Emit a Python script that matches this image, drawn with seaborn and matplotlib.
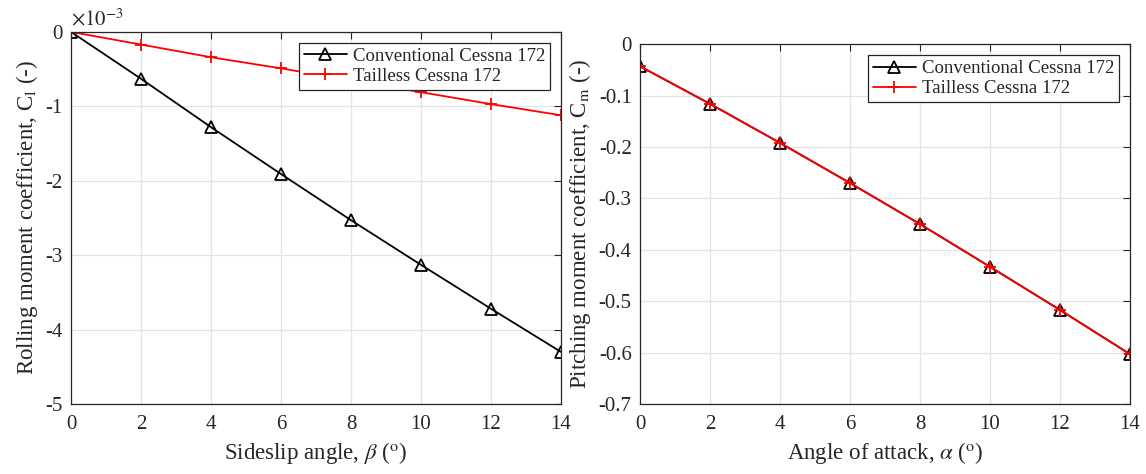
import numpy as np
import pandas as pd
import seaborn as sns
import matplotlib
matplotlib.use("Agg")
import matplotlib.pyplot as plt
from matplotlib.ticker import FuncFormatter

# Data
beta = [0, 2, 4, 6, 8, 10, 12, 14]
cl_conventional = [0.0, -0.63, -1.28, -1.91, -2.53, -3.13, -3.72, -4.30]  # x1e-3
cl_tailless = [0.0, -0.17, -0.34, -0.49, -0.65, -0.81, -0.97, -1.12]      # x1e-3
alpha = [0, 2, 4, 6, 8, 10, 12, 14]
cm_conventional = [-0.043, -0.116, -0.192, -0.270, -0.350, -0.433, -0.517, -0.603]
cm_tailless = [-0.043, -0.116, -0.192, -0.270, -0.350, -0.433, -0.517, -0.603]
labels = ["Conventional Cessna 172", "Tailless Cessna 172"]

sns.set_theme(style="whitegrid")
plt.rcParams["font.family"] = ["Liberation Serif", "DejaVu Serif"]
plt.rcParams["mathtext.fontset"] = "stix"
plt.rcParams["axes.unicode_minus"] = False

fig = plt.figure(figsize=(11.46, 4.74), dpi=100)
ax1 = fig.add_axes([0.062, 0.1477, 0.4275, 0.785])
ax2 = fig.add_axes([0.5585, 0.1477, 0.4275, 0.759])

df1 = pd.DataFrame({
    "x": beta + beta,
    "y": [v * 1e-3 for v in cl_conventional] + [v * 1e-3 for v in cl_tailless],
    "s": [labels[0]] * len(beta) + [labels[1]] * len(beta),
})
df2 = pd.DataFrame({
    "x": alpha + alpha,
    "y": cm_conventional + cm_tailless,
    "s": [labels[0]] * len(alpha) + [labels[1]] * len(alpha),
})

palette = {labels[0]: "black", labels[1]: "red"}
markers = {labels[0]: "^", labels[1]: "+"}

for ax, df in [(ax1, df1), (ax2, df2)]:
    for lab in labels:
        sub = df[df["s"] == lab]
        if lab == labels[0]:
            kw = dict(markerfacecolor="none", markeredgecolor="black", markersize=9, markeredgewidth=1.3)
        else:
            kw = dict(markerfacecolor="red", markeredgecolor="red", markersize=9, markeredgewidth=1.3)
        sns.lineplot(data=sub, x="x", y="y", ax=ax, color=palette[lab], marker=markers[lab],
                     linewidth=1.3, label=lab, **kw)

for ax in (ax1, ax2):
    ax.set_xlim(0, 14)
    ax.set_xticks(range(0, 15, 2))
    ax.grid(True, color="#e3e3e3", linewidth=0.9)
    ax.set_facecolor("white")
    for sp in ax.spines.values():
        sp.set_color("#262626")
        sp.set_linewidth(0.9)
        sp.set_visible(True)
    ax.tick_params(direction="in", top=True, right=True, length=5, width=0.8,
                   colors="#262626", labelsize=15, pad=8)
    ax.tick_params(axis="y", pad=6)
    leg = ax.legend(loc="upper right", fontsize=13.5, frameon=True, fancybox=False,
                    edgecolor="#262626", borderpad=0.25, labelspacing=0.15,
                    handlelength=2.3, handletextpad=0.3, borderaxespad=0.6)
    leg.get_frame().set_linewidth(0.9)
    leg.get_frame().set_alpha(1)

ax1.set_ylim(-5e-3, 0)
ax1.set_yticks(np.arange(-5, 0.5, 1) * 1e-3)
ax1.yaxis.set_major_formatter(FuncFormatter(lambda v, p: f"{round(v * 1e3):d}"))
ax1.text(0.0, 1.005, r"$\times10^{-3}$", transform=ax1.transAxes, fontsize=15,
         color="#262626", ha="left", va="bottom")
ax1.set_xlabel(r"Sideslip angle, $\beta$ ($^{\rm o}$)", fontsize=16.5, color="#262626")
ax1.set_ylabel(r"Rolling moment coefficient, C$_{\rm l}$ (-)", fontsize=16.5, color="#262626")

ax2.set_ylim(-0.7, 0)
ax2.set_yticks(np.round(np.arange(-0.7, 0.05, 0.1), 1))
ax2.set_yticklabels(["-0.7", "-0.6", "-0.5", "-0.4", "-0.3", "-0.2", "-0.1", "0"])
ax2.set_xlabel(r"Angle of attack, $\alpha$ ($^{\rm o}$)", fontsize=16.5, color="#262626")
ax2.set_ylabel(r"Pitching moment coefficient, C$_{\rm m}$ (-)", fontsize=16.5, color="#262626")

fig.savefig("out.png", dpi=100)
